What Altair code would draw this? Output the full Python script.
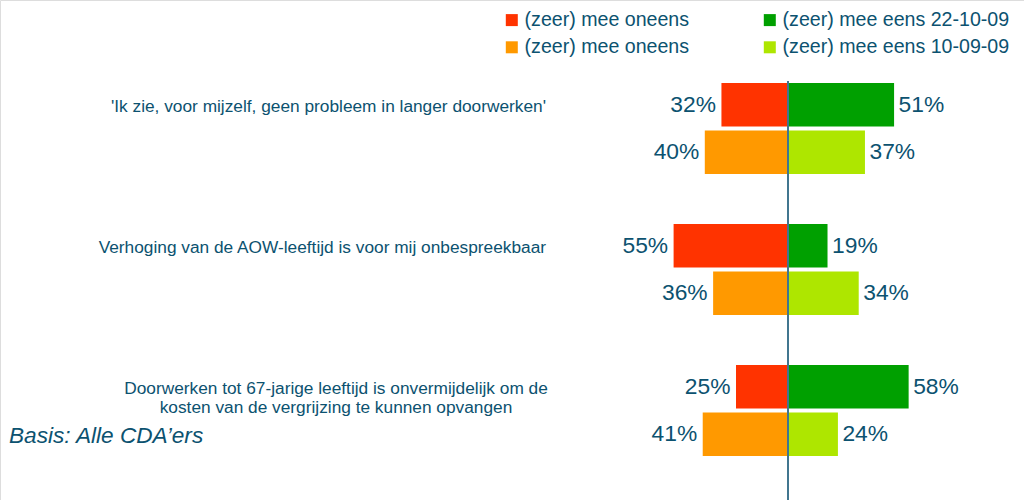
import altair as alt
import pandas as pd

# ---- data ----
questions = ["q1", "q2", "q3"]
question_labels = [
    "'Ik zie, voor mijzelf, geen probleem in langer doorwerken'",
    "Verhoging van de AOW-leeftijd is voor mij onbespreekbaar",
    "Doorwerken tot 67-jarige leeftijd is onvermijdelijk om de\nkosten van de vergrijzing te kunnen opvangen",
]
waves = ["22-10-09", "10-09-09"]
disagree_2210 = [32, 55, 25]
agree_2210 = [51, 19, 58]
disagree_1009 = [40, 36, 41]
agree_1009 = [37, 34, 24]

keys = [
    "(zeer) mee oneens 22-10-09",
    "(zeer) mee oneens 10-09-09",
    "(zeer) mee eens 22-10-09",
    "(zeer) mee eens 10-09-09",
]
colors = ["#FF3300", "#FF9900", "#00A000", "#AEE600"]

TEXT = "#0C5270"
AXIS = "#41768F"
FONT = "Liberation Sans"

rows = []
for i, q in enumerate(questions):
    for wave, dis, agr in [
        ("22-10-09", disagree_2210[i], agree_2210[i]),
        ("10-09-09", disagree_1009[i], agree_1009[i]),
    ]:
        rows.append(dict(q=q, wave=wave, side="neg", key=f"(zeer) mee oneens {wave}",
                         value=-dis, pct=f"{dis}%"))
        rows.append(dict(q=q, wave=wave, side="pos", key=f"(zeer) mee eens {wave}",
                         value=agr, pct=f"{agr}%"))
df = pd.DataFrame(rows)

qdf = pd.DataFrame({"q": questions, "label": question_labels, "wave": waves[0]})
qdf["lines"] = qdf["label"].str.split("\n")

px_per_pct = 2.08
center = 788
xscale = alt.Scale(domain=[-center / px_per_pct, (1024 - center) / px_per_pct])
yscale = alt.Scale(domain=questions, range=[83, 456], paddingInner=0.3546, paddingOuter=0)
yoff = alt.Scale(domain=waves, paddingInner=0.085, paddingOuter=0)

Y = alt.Y("q:N", scale=yscale, axis=None)
YO = alt.YOffset("wave:N", scale=yoff)
X = alt.X("value:Q", scale=xscale, axis=None)

base = alt.Chart(df)

bars = base.mark_bar().transform_calculate(zero="0").encode(
    x=X,
    x2="zero:Q",
    y=Y,
    yOffset=YO,
    color=alt.Color(
        "key:N",
        scale=alt.Scale(domain=keys, range=colors),
        legend=alt.Legend(
            title=None,
            orient="none",
            direction="vertical",
            legendX=502,
            legendY=10,
            columns=2,
            columnPadding=70,
            rowPadding=6.5,
            symbolType="square",
            symbolSize=144,
            symbolStrokeWidth=0,
            labelFont=FONT,
            labelFontSize=19.6,
            labelColor=TEXT,
            labelOffset=3,
            labelLimit=400,
            padding=0,
            labelExpr="indexof(datum.label, 'oneens') >= 0 ? '(zeer) mee oneens' : datum.label",
        ),
    ),
)

neg_text = base.transform_filter("datum.side == 'neg'").mark_text(
    align="right", baseline="middle", dx=-5.5, font=FONT, fontSize=22.8, color=TEXT
).encode(x=X, y=Y, yOffset=YO, text="pct:N")

pos_text = base.transform_filter("datum.side == 'pos'").mark_text(
    align="left", baseline="middle", dx=4.5, font=FONT, fontSize=22.8, color=TEXT
).encode(x=X, y=Y, yOffset=YO, text="pct:N")

qbase = alt.Chart(qdf)
qlabels_right = qbase.transform_filter("datum.q != 'q3'").mark_text(
    align="right", baseline="middle", font=FONT, fontSize=17.3, color=TEXT, dy=2
).encode(x=alt.value(546), y=Y, yOffset=YO, text="label:N")

qlabels_center = qbase.transform_filter("datum.q == 'q3'").mark_text(
    align="center", baseline="middle", font=FONT, fontSize=17.3, color=TEXT,
    lineHeight=19.5, dy=2
).encode(x=alt.value(336), y=Y, yOffset=YO, text="lines")

axis_line = alt.Chart(pd.DataFrame({"zero": [0]})).mark_rule(
    color=AXIS, strokeWidth=2
).encode(x=alt.X("zero:Q", scale=xscale, axis=None), y=alt.value(81), y2=alt.value(500))

basis = alt.Chart(pd.DataFrame({"t": ["Basis: Alle CDA\u2019ers"]})).mark_text(
    align="left", baseline="alphabetic", font=FONT, fontSize=22.6, fontStyle="italic", color=TEXT
).encode(x=alt.value(9), y=alt.value(443), text="t:N")

chart = alt.layer(bars, axis_line, neg_text, pos_text, qlabels_right, qlabels_center, basis).properties(
    width=1024, height=500,
    autosize=alt.AutoSizeParams(type="none"),
    padding=0,
).configure_view(stroke=None).configure(background="white")

chart.save("out.html", embed_options={"renderer": "svg", "actions": False})
